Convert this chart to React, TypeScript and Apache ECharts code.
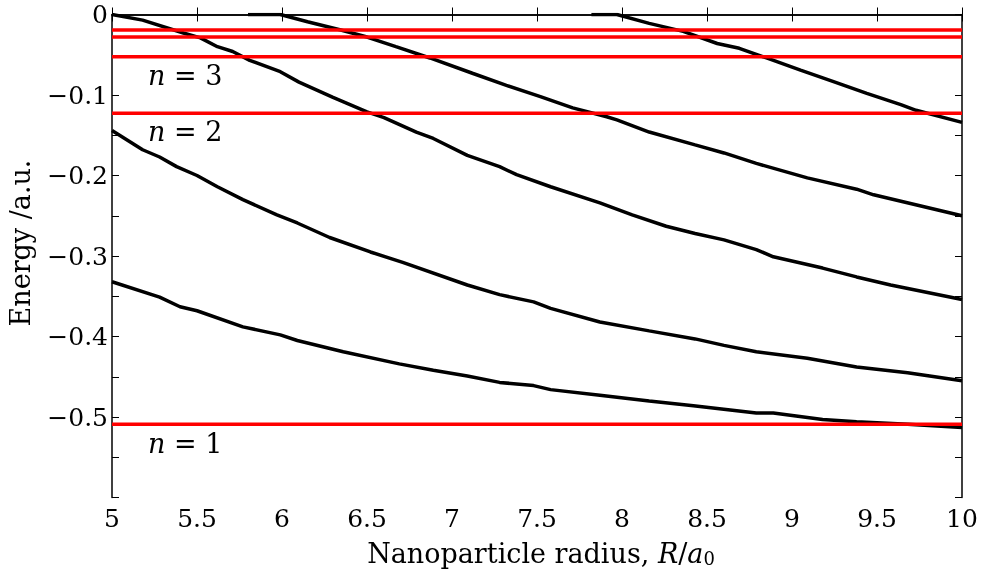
import React, { useEffect, useRef } from "react";
import * as echarts from "echarts";

// Energy levels of confined states vs nanoparticle radius (a.u.)
const curveA: [number, number][] = [
  [5, -0.332], [5.28, -0.351], [5.4, -0.363], [5.5, -0.368], [5.77, -0.388], [5.99, -0.398],
  [6.09, -0.405], [6.36, -0.419], [6.69, -0.434], [6.89, -0.442], [7.09, -0.449], [7.28, -0.457],
  [7.48, -0.461], [7.58, -0.466], [7.87, -0.473], [8.16, -0.48], [8.42, -0.486], [8.79, -0.495],
  [8.89, -0.495], [9.18, -0.503], [9.38, -0.506], [9.68, -0.509], [10, -0.513],
];
const curveB: [number, number][] = [
  [5, -0.144], [5.18, -0.168], [5.28, -0.177], [5.38, -0.189], [5.5, -0.2], [5.62, -0.214],
  [5.77, -0.23], [5.97, -0.249], [6.09, -0.259], [6.28, -0.277], [6.52, -0.295], [6.71, -0.308],
  [7.09, -0.336], [7.28, -0.348], [7.48, -0.357], [7.58, -0.365], [7.87, -0.382], [8.16, -0.393],
  [8.43, -0.403], [8.6, -0.411], [8.79, -0.419], [9.09, -0.427], [9.38, -0.438], [9.68, -0.445],
  [10, -0.455],
];
const curveC: [number, number][] = [
  [5, 0], [5.18, -0.007], [5.42, -0.023], [5.52, -0.029], [5.62, -0.04], [5.71, -0.046],
  [5.81, -0.057], [5.99, -0.071], [6.1, -0.084], [6.3, -0.103], [6.5, -0.121], [6.6, -0.128],
  [6.79, -0.146], [6.89, -0.154], [7.09, -0.175], [7.28, -0.189], [7.38, -0.199], [7.58, -0.214],
  [7.87, -0.234], [8.06, -0.249], [8.26, -0.263], [8.43, -0.272], [8.6, -0.28], [8.79, -0.292],
  [8.89, -0.301], [9.18, -0.315], [9.38, -0.326], [9.58, -0.336], [10, -0.354],
];
const curveD: [number, number][] = [
  [5.8, 0], [5.99, 0], [6.15, -0.009], [6.34, -0.019], [6.5, -0.028], [6.67, -0.04],
  [6.87, -0.054], [7.12, -0.073], [7.32, -0.088], [7.52, -0.102], [7.71, -0.116], [7.91, -0.127],
  [7.97, -0.131], [8.16, -0.146], [8.43, -0.162], [8.6, -0.172], [8.79, -0.185], [9.09, -0.203],
  [9.38, -0.217], [9.48, -0.224], [10, -0.25],
];
const curveE: [number, number][] = [
  [7.82, 0], [7.97, 0], [8.16, -0.011], [8.36, -0.021], [8.56, -0.036], [8.69, -0.042],
  [8.85, -0.054], [9.05, -0.069], [9.24, -0.083], [9.44, -0.098], [9.64, -0.112], [9.73, -0.119],
  [10, -0.134],
];
const hydrogenLevels: number[] = [-0.509, -0.1227, -0.0524, -0.028, -0.0193];
const xRange: [number, number] = [5, 10];
const levelLabels: { n: string; y: number }[] = [
  { n: "3", y: 75 },
  { n: "2", y: 131 },
  { n: "1", y: 443 },
];

const FONT = "DejaVu Serif";

export default function App() {
  const ref = useRef<HTMLDivElement>(null);
  useEffect(() => {
    if (!ref.current) return;
    const chart = echarts.init(ref.current, undefined, { renderer: "svg" });
    const black = [curveA, curveB, curveC, curveD, curveE].map((d) => ({
      type: "line",
      data: d,
      showSymbol: false,
      symbol: "none",
      lineStyle: { color: "#000", width: 3.5 },
      z: 2,
    }));
    const red = hydrogenLevels.map((v) => ({
      type: "line",
      data: [[xRange[0], v], [xRange[1], v]],
      showSymbol: false,
      symbol: "none",
      lineStyle: { color: "#ff0000", width: 3.5 },
      z: 3,
    }));
    const axisLine = { show: true, lineStyle: { color: "#000", width: 1.5 } };
    const tick = { show: true, inside: true, length: 7, lineStyle: { color: "#000", width: 1 } };
    const yFmt = (value: number) => {
      const v = Math.round(value * 10) / 10;
      if (v === -0.6) return "";
      if (v === 0) return "0";
      return "\u2212" + Math.abs(v).toString();
    };
    chart.setOption({
      animation: false,
      grid: { left: 112, right: 24, top: 14.5, bottom: 76.5, containLabel: false },
      xAxis: [
        {
          type: "value", min: 5, max: 10, interval: 0.5, position: "bottom",
          axisLine, axisTick: tick, splitLine: { show: false },
          axisLabel: { color: "#000", fontFamily: FONT, fontSize: 25, margin: 8, formatter: (v: number) => String(Math.round(v * 10) / 10) },
        },
        {
          type: "value", min: 5, max: 10, interval: 0.5, position: "top",
          axisLine, axisTick: tick, splitLine: { show: false }, axisLabel: { show: false },
        },
      ],
      yAxis: [
        {
          type: "value", min: -0.6, max: 0, interval: 0.1, position: "left",
          axisLine, axisTick: tick, splitLine: { show: false },
          minorTick: { show: true, splitNumber: 2, length: 7, lineStyle: { color: "#000", width: 1 } },
          axisLabel: { color: "#000", fontFamily: FONT, fontSize: 25, margin: 4, formatter: yFmt },
        },
        {
          type: "value", min: -0.6, max: 0, interval: 0.1, position: "right",
          axisLine, axisTick: tick, splitLine: { show: false },
          minorTick: { show: true, splitNumber: 2, length: 7, lineStyle: { color: "#000", width: 1 } },
          axisLabel: { show: false },
        },
      ],
      series: [...black, ...red],
      graphic: [
        {
          type: "text", x: 20, y: 243, rotation: Math.PI / 2,
          style: { text: "Energy /a.u.", font: `27px "${FONT}"`, fill: "#000", align: "center", verticalAlign: "middle" },
        },
        {
          type: "text", x: 541, y: 553,
          style: {
            text: "{n|Nanoparticle radius, }{i|R}{n|/}{i|a}{s|0}",
            align: "center", verticalAlign: "middle", fill: "#000",
            rich: {
              n: { fontFamily: FONT, fontSize: 27, fill: "#000" },
              i: { fontFamily: FONT, fontSize: 27, fontStyle: "italic", fill: "#000" },
              s: { fontFamily: FONT, fontSize: 18, fill: "#000", padding: [10, 0, 0, 0] },
            },
          },
        },
        ...levelLabels.map((l) => ({
          type: "text", x: 148, y: l.y,
          style: {
            text: `{i|n}{n| = ${l.n}}`,
            align: "left", verticalAlign: "middle", fill: "#000",
            rich: {
              n: { fontFamily: FONT, fontSize: 27, fill: "#000" },
              i: { fontFamily: FONT, fontSize: 27, fontStyle: "italic", fill: "#000" },
            },
          },
        })),
      ],
    });
    return () => chart.dispose();
  }, []);
  return <div ref={ref} style={{ position: "fixed", left: 0, top: 0, width: 986, height: 574 }} />;
}
